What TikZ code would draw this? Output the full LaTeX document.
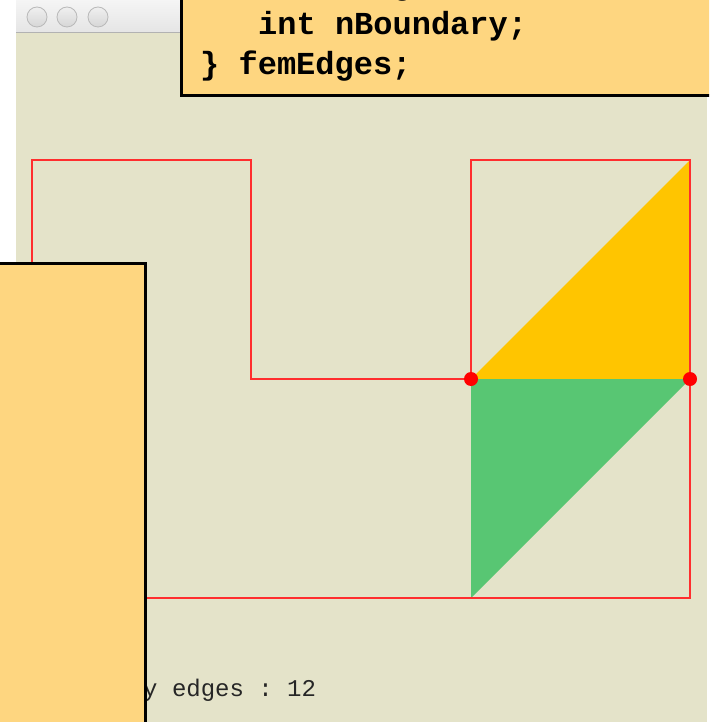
\documentclass[tikz,border=0pt]{standalone}
\usepackage{fontspec}
\setmonofont{Liberation Mono}
\usepackage{xcolor}
\usepackage{tikz}
\definecolor{canvas}{HTML}{E4E3C9}
\definecolor{boxfill}{HTML}{FED680}
\definecolor{meshred}{HTML}{FF2E2E}
\definecolor{elemyellow}{HTML}{FFC500}
\definecolor{elemgreen}{HTML}{58C673}

\begin{document}
\begin{tikzpicture}[x=1pt, y=-1pt,
    codeline/.style={anchor=base west, inner sep=0pt, font=\fontsize{32}{38}\selectfont\ttfamily\bfseries},
    notepanel/.style={fill=boxfill, draw=black, line width=3pt},
    winbutton/.style={top color=gray!12, bottom color=gray!32, draw=gray!55, line width=0.8pt}]
  \useasboundingbox (0,0) rectangle (709,722);
  \clip (0,0) rectangle (709,722);
  % window frame
  \fill[white] (0,0) rectangle (709,722);
  \fill[canvas] (16,33) rectangle (707,722);
  \shade[top color=gray!8, bottom color=gray!20] (16,0) rectangle (707,32);
  \draw[gray!60, line width=1pt] (16,32.5) -- (707,32.5);
  \foreach \x in {37,67,98}
    \shadedraw[winbutton] (\x,17) circle (10);
  % mesh
  \coordinate (p1) at (32,160);
  \coordinate (p2) at (251,160);
  \coordinate (p3) at (251,379);
  \coordinate (p4) at (471,379);
  \coordinate (p5) at (471,160);
  \coordinate (p6) at (690,160);
  \coordinate (p7) at (690,598);
  \coordinate (p8) at (32,598);
  \coordinate (q1) at (690,379);
  \coordinate (q2) at (471,598);
  \fill[elemyellow] (p4) -- (q1) -- (p6) -- cycle;
  \fill[elemgreen] (p4) -- (q1) -- (q2) -- cycle;
  \draw[meshred, line width=2pt] (p1) -- (p2) -- (p3) -- (p4) -- (p5) -- (p6) -- (p7) -- (p8) -- cycle;
  \fill[red] (p4) circle (7);
  \fill[red] (q1) circle (7);
  \node[anchor=base west, inner sep=0pt, text=black!85, font=\fontsize{24}{28}\selectfont\ttfamily] (count) at (143,696) {y edges : 12};
  % code boxes
  \filldraw[notepanel] (181.5,-10) rectangle (720,95.5);
  \node[codeline] (nedge) at (258,-5) {int nEdge;};
  \node[codeline] (nbound) at (258,35) {int nBoundary;};
  \node[codeline] (close) at (200,75) {\} femEdges;};
  \filldraw[notepanel] (-10,263.5) rectangle (145.5,740);
\end{tikzpicture}
\end{document}
